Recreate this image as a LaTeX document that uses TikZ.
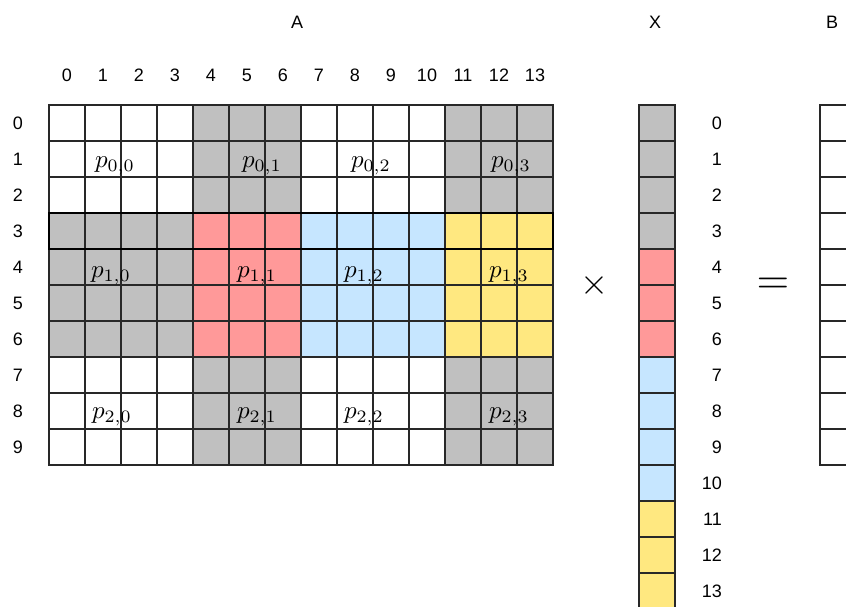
\documentclass[tikz,border=0pt]{standalone}
\usepackage{fontspec}
\setmainfont{Liberation Sans}
\definecolor{cgray}{RGB}{192,192,192}
\definecolor{cred}{RGB}{255,153,153}
\definecolor{cblue}{RGB}{198,230,255}
\definecolor{cyel}{RGB}{255,232,128}
\definecolor{gridc}{RGB}{40,40,40}
\begin{document}
\begin{tikzpicture}[x=1pt,y=-1pt,
  cell/.style={draw=gridc, line width=1.1pt, minimum size=36pt, inner sep=0pt, outer sep=0pt},
  lbl/.style={font=\fontsize{18}{21}\selectfont, inner sep=0pt},
  plbl/.style={font=\normalsize, scale=2.5, inner sep=0pt},
  opl/.style={inner sep=0pt}]
\useasboundingbox (0,0) rectangle (846,607);
% fills of A
\fill[cgray] (193,105) rectangle (301,213);
\fill[cgray] (445,105) rectangle (553,213);
\fill[cgray] (49,213) rectangle (193,357);
\fill[cred] (193,213) rectangle (301,357);
\fill[cblue] (301,213) rectangle (445,357);
\fill[cyel] (445,213) rectangle (553,357);
\fill[cgray] (193,357) rectangle (301,465);
\fill[cgray] (445,357) rectangle (553,465);
% fills of X
\fill[cgray] (639,105) rectangle (675,249);
\fill[cred] (639,249) rectangle (675,357);
\fill[cblue] (639,357) rectangle (675,501);
\fill[cyel] (639,501) rectangle (675,609);
% grid of A
\foreach \r in {0,...,9}{
  \foreach \c in {0,...,13}{
    \node[cell] (a-\r-\c) at (67+36*\c,123+36*\r) {};
  }
}
% X column
\foreach \r in {0,...,13}{
  \node[cell] (x-\r) at (657,123+36*\r) {};
  \node[lbl, anchor=east] (xn-\r) at (722,123+36*\r) {\r};
}
% B column
\foreach \r in {0,...,9}{
  \node[cell] (b-\r) at (838,123+36*\r) {};
}
% highlighted row
\draw[line width=2.6pt] (a-3-0.north west) rectangle (a-3-13.south east);
% column and row numbers
\foreach \c in {0,...,13}{
  \node[lbl] (cn-\c) at (67+36*\c,75) {\c};
}
\foreach \r in {0,...,9}{
  \node[lbl] (rn-\r) at (18,123+36*\r) {\r};
}
% titles
\node[lbl] (tA) at (297,22) {A};
\node[lbl] (tX) at (655,22) {X};
\node[lbl] (tB) at (832,22) {B};
% p labels
\node[plbl] (p00) at (115,166) {$p_{0,0}$};
\node[plbl] (p01) at (262,166) {$p_{0,1}$};
\node[plbl] (p02) at (371,166) {$p_{0,2}$};
\node[plbl] (p03) at (511,166) {$p_{0,3}$};
\node[plbl] (p10) at (111,276) {$p_{1,0}$};
\node[plbl] (p11) at (257,276) {$p_{1,1}$};
\node[plbl] (p12) at (364,276) {$p_{1,2}$};
\node[plbl] (p13) at (509,276) {$p_{1,3}$};
\node[plbl] (p20) at (112,417) {$p_{2,0}$};
\node[plbl] (p21) at (257,417) {$p_{2,1}$};
\node[plbl] (p22) at (364,417) {$p_{2,2}$};
\node[plbl] (p23) at (509,417) {$p_{2,3}$};
% operators
\node[opl, font=\normalsize, scale=3.6] (times) at (594,285) {$\times$};
\node[opl, font=\normalsize, scale=4.2] (eq) at (773,286) {$=$};
\end{tikzpicture}
\end{document}
